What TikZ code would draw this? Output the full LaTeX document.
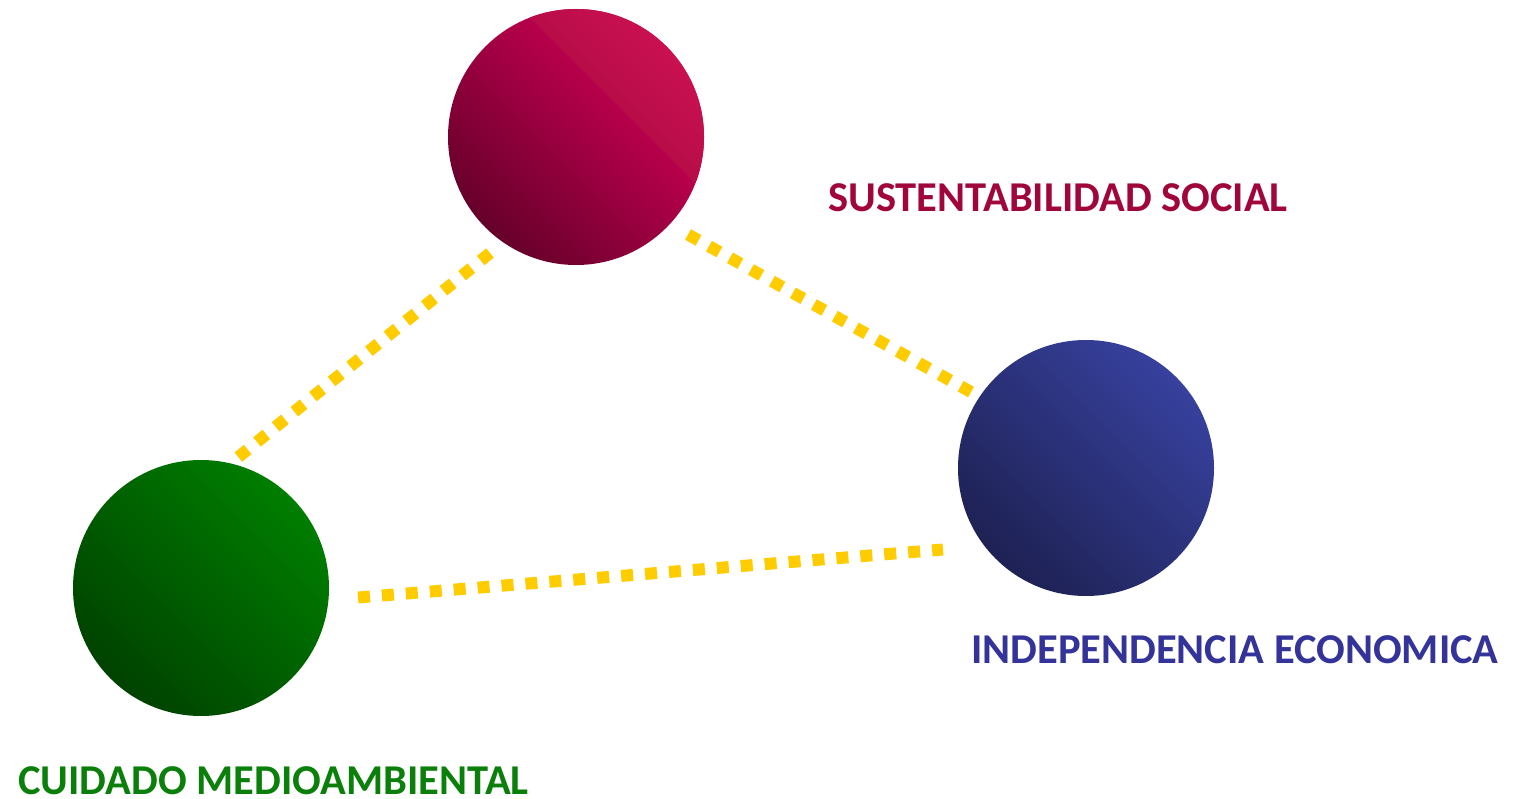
\documentclass[tikz,border=0pt]{standalone}
\usepackage{fontspec}
\setmainfont{Carlito}
\definecolor{redA}{HTML}{66002A}
\definecolor{redB}{HTML}{DA0059}
\definecolor{redC}{HTML}{8A0635}
\definecolor{redD}{HTML}{CA1050}
\definecolor{greenA}{HTML}{004200}
\definecolor{greenB}{HTML}{007E00}
\definecolor{blueA}{HTML}{1E2153}
\definecolor{blueB}{HTML}{37419E}
\definecolor{dotyellow}{HTML}{FFCC00}
\definecolor{txtred}{HTML}{A0063C}
\definecolor{txtblue}{HTML}{333399}
\definecolor{txtgreen}{HTML}{0A800A}
\tikzset{
  ball/.style={circle, minimum size=256pt, inner sep=0pt},
  dotline/.style={draw=dotyellow, line width=12pt, dash pattern=on 12pt off 12pt, line cap=butt},
  lbl/.style={inner sep=0pt, anchor=base west, font=\bfseries\fontsize{42.5}{42.5}\selectfont}
}
\begin{document}
\begin{tikzpicture}[x=1pt,y=-1pt]
\useasboundingbox[fill=white] (0,0) rectangle (1526,799);
% circles
\node[ball, left color=redA, right color=redB, shading angle=135] (red) at (576,137) {};
\node[ball, left color=blueA, right color=blueB, shading angle=135] (blue) at (1086,468) {};
\node[ball, left color=greenA, right color=greenB, shading angle=135] (green) at (201,588) {};
% lighter top-right segment of the red circle
\begin{scope}
\clip (400,-112) -- (800,288) -- (800,-112) -- cycle;
\shade[left color=redC, right color=redD, shading angle=135] (red.center) circle[radius=128pt];
\end{scope}
% connector ends
\coordinate (rg1) at (490,253);
\coordinate (rg2) at (236,459);
\coordinate (rb1) at (688,234.5);
\coordinate (rb2) at (971,392);
\coordinate (gb1) at (358,597.5);
\coordinate (gb2) at (943,549.5);
\draw[dotline] (rg1) -- (rg2);
\draw[dotline] (rb1) -- (rb2);
\draw[dotline] (gb1) -- (gb2);
% labels
\node[lbl, text=txtred] (lsoc) at (828,211.5) {SUSTENTABILIDAD SOCIAL};
\node[lbl, text=txtblue] (leco) at (971,663) {INDEPENDENCIA ECONOMICA};
\node[lbl, text=txtgreen] (lmed) at (18,794) {CUIDADO MEDIOAMBIENTAL};
\end{tikzpicture}
\end{document}
